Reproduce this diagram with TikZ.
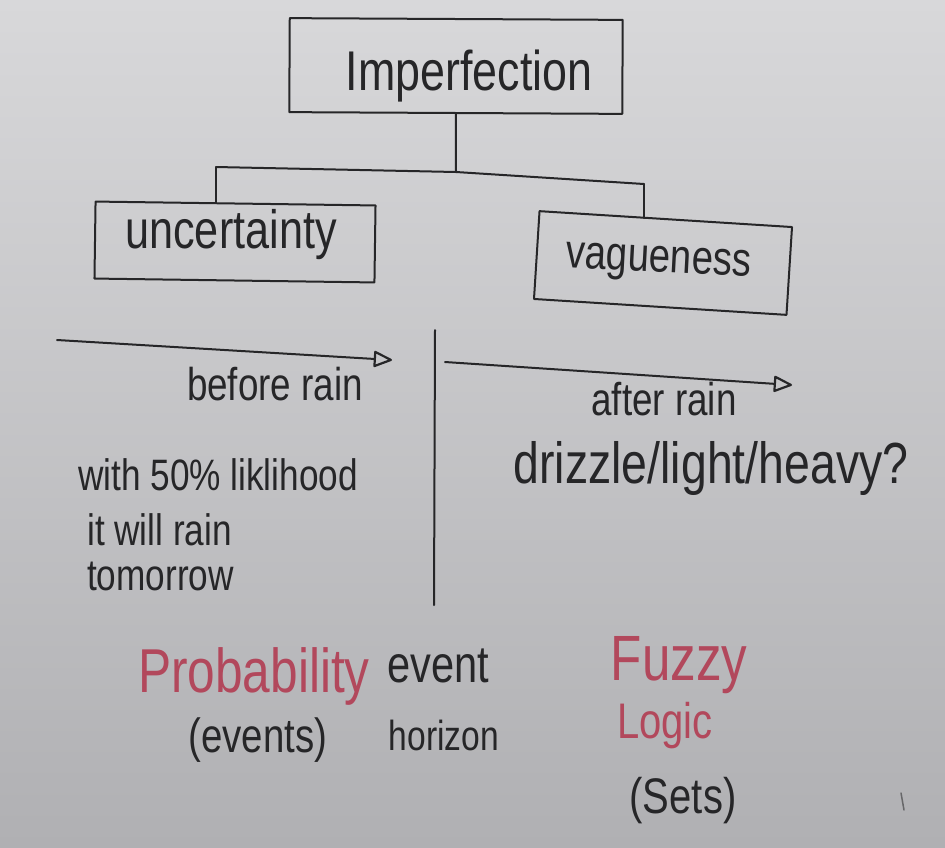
\documentclass[tikz,border=0pt]{standalone}
\usepackage{fontspec}
\newfontfamily\hand[FakeStretch=0.8]{Liberation Sans}
\usetikzlibrary{arrows.meta}
\definecolor{ink}{RGB}{38,38,40}
\definecolor{redink}{RGB}{178,72,92}
\definecolor{boardtop}{RGB}{216,216,218}
\definecolor{boardbot}{RGB}{176,176,179}
\newcommand{\fs}[1]{\hand\fontsize{#1}{#1}\selectfont}
\begin{document}
\begin{tikzpicture}[x=1pt,y=-1pt,
  box/.style={draw=ink, line width=2pt, inner sep=0pt, line join=round},
  txt/.style={text=ink, anchor=base, inner sep=0pt},
  rtxt/.style={txt, text=redink},
  ln/.style={draw=ink, line width=2pt, line cap=round},
  arr/.style={ln, -{Triangle[open,length=20pt,width=17pt,line width=2.2pt,round]}}]
\useasboundingbox (0,0) rectangle (945,847);
\shade[top color=boardtop, bottom color=boardbot] (0,0) rectangle (945,847);

% boxes
\node[box, minimum width=333pt, minimum height=94pt, rotate=-0.3] (imp) at (456,66) {};
\node[box, minimum width=280pt, minimum height=77pt, rotate=-0.8] (unc) at (235,242) {};
\node[box, minimum width=253pt, minimum height=88pt, rotate=-3.6] (vag) at (663,263) {};
\node[txt, font=\fs{56}] (impt) at (469,90) {Imperfection};
\node[txt, font=\fs{54}] (unct) at (231,248) {uncertainty};
\node[txt, font=\fs{48}, rotate=-3] (vagt) at (658,272) {vagueness};

% tree connectors
\coordinate (j) at (456,172);
\coordinate (L) at (216,167);
\coordinate (R) at (644,184);
\draw[ln] (imp.south) -- (j);
\draw[ln] (L) -- (j) -- (R);
\draw[ln] (L) -- (L |- unc.north);
\draw[ln] (R) -- (R |- vag.north);

% arrows and divider
\coordinate (a1s) at (57,340);
\coordinate (a1e) at (392,360);
\coordinate (a2s) at (445,362);
\coordinate (a2e) at (792,385);
\coordinate (dvt) at (435,330);
\coordinate (dvb) at (434,605);
\draw[arr] (a1s) -- (a1e);
\draw[arr] (a2s) -- (a2e);
\draw[ln] (dvt) -- (dvb);

\node[txt, font=\fs{46}] (before) at (275,400) {before rain};
\node[txt, font=\fs{46}] (after) at (664,415) {after rain};
\node[txt, font=\fs{58}] (drizzle) at (711,483) {drizzle/light/heavy?};

\node[txt, anchor=base west, font=\fs{44}] (l1) at (78,490) {with 50\% liklihood};
\node[txt, anchor=base west, font=\fs{44}] (l2) at (87,545) {it will rain};
\node[txt, anchor=base west, font=\fs{44}] (l3) at (87,590) {tomorrow};

\node[rtxt, font=\fs{62}] (prob) at (254,692) {Probability};
\node[txt, font=\fs{48}] (events) at (258,752) {(events)};
\node[txt, font=\fs{52}] (event) at (438,682) {event};
\node[txt, font=\fs{42}] (horizon) at (444,750) {horizon};

\node[rtxt, font=\fs{64}] (fuzzy) at (679,680) {Fuzzy};
\node[rtxt, font=\fs{50}] (logic) at (665,738) {Logic};
\node[txt, font=\fs{50}] (sets) at (683,813) {(Sets)};

% stray mark on the board
\coordinate (m1) at (901,793);
\coordinate (m2) at (904,810);
\draw[ink!70, line width=1.5pt, line cap=round] (m1) -- (m2);
\end{tikzpicture}
\end{document}
